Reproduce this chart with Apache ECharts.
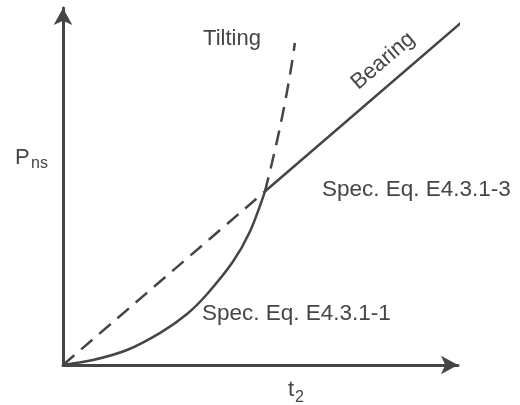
<!DOCTYPE html>
<html>
<head>
<meta charset="utf-8">
<script src="https://cdn.jsdelivr.net/npm/echarts@6/dist/echarts.min.js"></script>
<style>html,body{margin:0;padding:0;background:#fff;}#c{width:520px;height:405px;}</style>
</head>
<body>
<div id="c"></div>
<script>
// Data (axis units: 0..10 on both axes, no ticks)
const tiltingSolid = [[0,0],[0.76,0.14],[1.62,0.42],[2.46,0.90],[3.14,1.43],[3.65,1.99],[4.30,2.89],[4.73,3.73],[5.11,4.85]];
const tiltingDashed = [[5.11,4.85],[5.29,5.66],[5.49,6.64],[5.67,7.65],[5.80,8.49],[5.87,9.02]];
const bearingDashed = [[0,0],[5.11,4.86]];
const bearingSolid = [[5.11,4.86],[10.13,9.64]];
const labels = {
  tilting: 'Tilting',
  bearing: 'Bearing',
  eq3: 'Spec. Eq. E4.3.1-3',
  eq1: 'Spec. Eq. E4.3.1-1'
};

const ink = '#454545';
const font = '"Liberation Sans", Arial, Helvetica, sans-serif';
const chart = echarts.init(document.getElementById('c'), null, {renderer: 'canvas'});

function axis() {
  return {
    type: 'value', min: 0, max: 10,
    axisLine: {show: true, onZero: false, symbol: ['none', 'arrow'], symbolSize: [14, 17], lineStyle: {color: ink, width: 3}},
    axisTick: {show: false}, axisLabel: {show: false}, splitLine: {show: false}
  };
}
function line(data, dashed) {
  return {
    type: 'line', data: data, symbol: 'none', smooth: 0.3, clip: false,
    lineStyle: {color: ink, width: 2.5, type: dashed ? [15, 9] : 'solid', cap: 'butt'},
    silent: true
  };
}
function txt(text, x, y, size, align, extra) {
  return Object.assign({
    type: 'text', x: x, y: y,
    style: {text: text, fontSize: size, fontFamily: font, fill: ink, align: align || 'left', verticalAlign: 'middle'}
  }, extra || {});
}

chart.setOption({
  animation: false,
  grid: {left: 63, right: 62, top: 8, bottom: 40},
  xAxis: axis(),
  yAxis: axis(),
  series: [
    line(tiltingSolid, false),
    line(tiltingDashed, true),
    line(bearingDashed, true),
    line(bearingSolid, false)
  ],
  graphic: [
    txt(labels.tilting, 232, 39, 22, 'center'),
    txt(labels.bearing, 383, 61, 22, 'center', {rotation: 0.71}),
    txt(labels.eq3, 322, 190, 22.5),
    txt(labels.eq1, 202, 314, 22.5),
    txt('P', 15, 158, 22),
    txt('ns', 31, 164, 16),
    txt('t', 288, 390, 22),
    txt('2', 295, 398, 16)
  ]
});
</script>
</body>
</html>
